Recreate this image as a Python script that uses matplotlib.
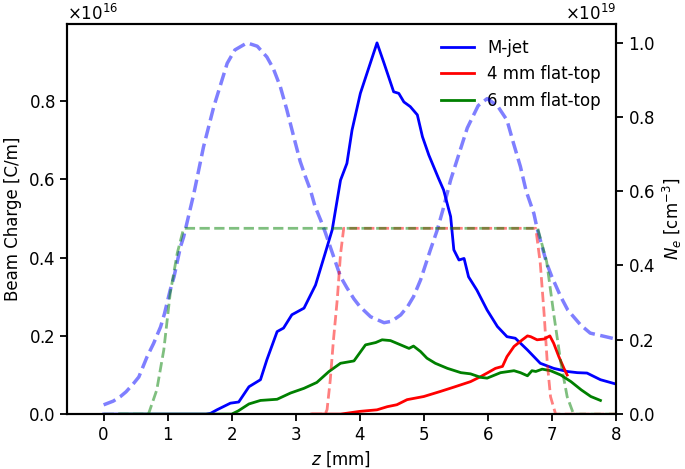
import numpy as np
import matplotlib.pyplot as plt

# beam charge (units of 1e16 C/m)
z_mjet = [0.0, 1.6, 1.67, 1.77, 1.98, 2.11, 2.27, 2.45, 2.55, 2.71, 2.81, 2.94, 3.13, 3.31, 3.46, 3.57,
          3.70, 3.80, 3.88, 4.01, 4.27, 4.38, 4.53, 4.61, 4.69, 4.79, 4.90, 4.98, 5.08, 5.23, 5.31,
          5.42, 5.47, 5.55, 5.63, 5.70, 5.83, 5.99, 6.15, 6.30, 6.43, 6.62, 6.82, 7.03, 7.24, 7.40,
          7.55, 7.76, 8.0]
q_mjet = [0.0, 0.0, 0.002, 0.011, 0.028, 0.031, 0.07, 0.088, 0.139, 0.211, 0.22, 0.254, 0.271, 0.33,
          0.411, 0.471, 0.598, 0.641, 0.726, 0.82, 0.949, 0.897, 0.824, 0.82, 0.798, 0.786, 0.765,
          0.709, 0.662, 0.603, 0.573, 0.505, 0.42, 0.394, 0.398, 0.351, 0.317, 0.266, 0.224, 0.198,
          0.194, 0.164, 0.13, 0.117, 0.109, 0.106, 0.105, 0.088, 0.077]

z_ft4 = [3.25, 3.7, 4.0, 4.27, 4.43, 4.58, 4.74, 5.0, 5.26, 5.47, 5.73, 5.89, 5.99, 6.12, 6.23, 6.30,
         6.41, 6.54, 6.62, 6.67, 6.77, 6.88, 6.97, 7.03, 7.11, 7.19, 7.24]
q_ft4 = [0.0, 0.0, 0.007, 0.011, 0.019, 0.024, 0.037, 0.045, 0.058, 0.069, 0.083, 0.096, 0.105, 0.117,
         0.122, 0.147, 0.173, 0.19, 0.2, 0.198, 0.19, 0.192, 0.2, 0.181, 0.147, 0.117, 0.1]

z_ft6 = [0.25, 2.0, 2.1, 2.27, 2.45, 2.71, 2.92, 3.13, 3.33, 3.52, 3.70, 3.91, 4.09, 4.25, 4.35, 4.48,
         4.64, 4.77, 4.84, 4.95, 5.05, 5.18, 5.37, 5.58, 5.73, 5.89, 5.99, 6.2, 6.41, 6.51, 6.62,
         6.69, 6.75, 6.85, 6.98, 7.14, 7.30, 7.46, 7.61, 7.76]
q_ft6 = [0.0, 0.0, 0.008, 0.026, 0.035, 0.038, 0.054, 0.066, 0.081, 0.109, 0.13, 0.136, 0.177, 0.183,
         0.19, 0.188, 0.177, 0.168, 0.174, 0.16, 0.143, 0.13, 0.117, 0.106, 0.103, 0.094, 0.092,
         0.106, 0.111, 0.106, 0.098, 0.111, 0.109, 0.115, 0.111, 0.1, 0.083, 0.062, 0.045, 0.035]

# plasma density profiles (units of 1e19 cm^-3)
z_dens_mjet = [0.0, 0.15, 0.26, 0.35, 0.47, 0.55, 0.68, 0.78, 0.89, 0.95, 1.04, 1.1, 1.2, 1.25, 1.41,
               1.56, 1.72, 1.93, 2.05, 2.24, 2.4, 2.55, 2.65, 2.76, 2.86, 2.97, 3.07, 3.15, 3.23,
               3.3, 3.39, 3.46, 3.54, 3.62, 3.70, 3.8, 3.91, 4.0, 4.17, 4.38, 4.5, 4.64, 4.75, 4.84,
               4.95, 5.1, 5.21, 5.3, 5.42, 5.55, 5.68, 5.85, 5.99, 6.15, 6.30, 6.4, 6.51, 6.6, 6.72,
               6.77, 6.92, 7.0, 7.14, 7.25, 7.34, 7.45, 7.60, 7.8, 8.0]
n_mjet = [0.025, 0.035, 0.047, 0.06, 0.083, 0.1, 0.155, 0.19, 0.235, 0.27, 0.334, 0.37, 0.45, 0.477,
          0.594, 0.719, 0.827, 0.944, 0.98, 0.999, 0.99, 0.961, 0.93, 0.881, 0.82, 0.746, 0.68,
          0.64, 0.603, 0.56, 0.522, 0.49, 0.45, 0.41, 0.37, 0.34, 0.31, 0.29, 0.262, 0.246, 0.25,
          0.267, 0.29, 0.316, 0.361, 0.44, 0.495, 0.55, 0.63, 0.70, 0.77, 0.83, 0.849, 0.83, 0.791,
          0.73, 0.666, 0.6, 0.54, 0.5, 0.406, 0.37, 0.316, 0.28, 0.262, 0.24, 0.218, 0.21, 0.202]

z_dens_ft4 = [3.25, 3.46, 3.49, 3.54, 3.59, 3.65, 3.70, 3.75, 6.75, 6.82, 6.88, 6.93, 6.98, 7.06, 8.0]
n_ft4 = [0.0, 0.0, 0.012, 0.092, 0.2, 0.31, 0.43, 0.5, 0.5, 0.406, 0.27, 0.137, 0.047, 0.0, 0.0]

z_dens_ft6 = [0.0, 0.70, 0.83, 0.94, 1.04, 1.15, 1.25, 6.78, 6.92, 7.03, 7.14, 7.24, 7.34, 8.0]
n_ft6 = [0.0, 0.0, 0.065, 0.173, 0.325, 0.433, 0.5, 0.5, 0.41, 0.27, 0.14, 0.047, 0.0, 0.0]

plt.rcParams['font.size'] = 12

fig, ax1 = plt.subplots(figsize=(6.85, 4.69), dpi=100)
fig.subplots_adjust(left=0.098, right=0.899, top=0.949, bottom=0.117)

ax1.plot(z_mjet, np.array(q_mjet) * 1e16, color='blue', lw=2, label='M-jet')
ax1.plot(z_ft4, np.array(q_ft4) * 1e16, color='red', lw=2, label='4 mm flat-top')
ax1.plot(z_ft6, np.array(q_ft6) * 1e16, color='green', lw=2, label='6 mm flat-top')
ax1.set_xlim(-0.57, 8)
ax1.set_ylim(0, 0.9975e16)
ax1.set_yticks(np.arange(0, 0.9e16, 0.2e16))
ax1.ticklabel_format(axis='y', style='sci', scilimits=(16, 16), useMathText=True)
ax1.set_xlabel('$z$ [mm]')
ax1.set_ylabel('Beam Charge [C/m]')
ax1.legend(loc='upper right', frameon=False)

ax2 = ax1.twinx()
ax2.plot(z_dens_mjet, np.array(n_mjet) * 1e19, '--', color='blue', alpha=0.5, lw=2.5)
ax2.plot(z_dens_ft4, np.array(n_ft4) * 1e19, '--', color='red', alpha=0.5, lw=2)
ax2.plot(z_dens_ft6, np.array(n_ft6) * 1e19, '--', color='green', alpha=0.5, lw=2)
ax2.set_ylim(0, 1.05e19)
ax2.ticklabel_format(axis='y', style='sci', scilimits=(19, 19), useMathText=True)
ax2.set_ylabel('$N_e$ [cm$^{-3}$]')

for ax in (ax1, ax2):
    for s in ax.spines.values():
        s.set_linewidth(1.5)
    ax.tick_params(width=1.3, length=5)

plt.savefig('out.png')
